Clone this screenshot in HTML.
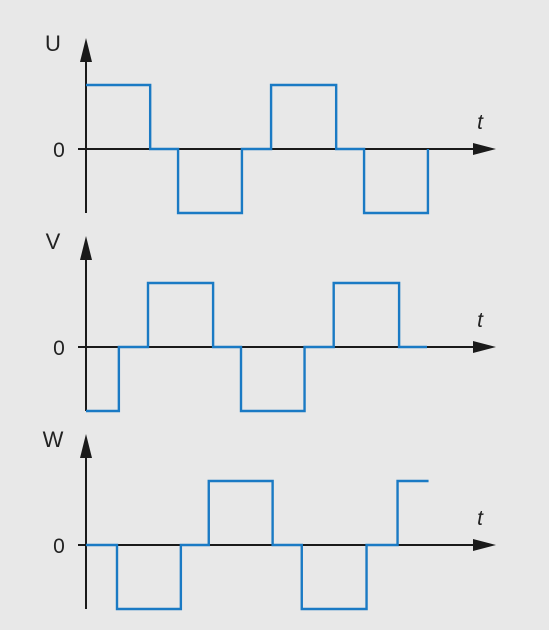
<!DOCTYPE html>
<html><head><meta charset="utf-8"><style>
html,body{margin:0;padding:0;background:#e8e8e8;}
svg{display:block;font-family:"Liberation Sans",sans-serif;}
</style></head><body>
<svg id="c" width="549" height="630" viewBox="0 0 549 630"></svg>
<script>
const phases = ["U","V","W"];
// segment boundaries (time units, ~1/12 period) and levels (+1,0,-1)
const times = [0,2.07,2.97,5.03,5.97,8.07,8.97,11.03,11.03];
const levelsU = [1,0,-1,0,1,0,-1,0];
const timesV = [0,1.06,2.0,4.1,5.0,7.05,7.99,10.1,11.0];
const levelsV = [-1,0,1,0,-1,0,1,0];
const timesW = [0,1.0,3.06,3.96,6.02,6.96,9.05,10.05,11.05];
const levelsW = [0,-1,0,1,0,-1,0,1];
const seriesTimes = [times, timesV, timesW];
const seriesLevels = [levelsU, levelsV, levelsW];
const zeroY = [149, 347, 545];
const amp = 64;
const x0 = 86, unit = 31;
const xs = t => x0 + t*unit;
const svg = document.getElementById('c');
const NS = "http://www.w3.org/2000/svg";
function mk(tag, attrs){const e=document.createElementNS(NS,tag);for(const k in attrs)e.setAttribute(k,attrs[k]);svg.appendChild(e);return e;}
phases.forEach((p,i)=>{
  const zy = zeroY[i];
  const yv = v => zy - v*amp;
  const ax = mk('line',{x1:x0,y1:zy+64,x2:x0,y2:zy-88,stroke:'#1a1a1a','stroke-width':2});
  
  
  const ah = mk('polygon',{points:`${x0-6},${zy-87} ${x0+6},${zy-87} ${x0},${zy-111}`,fill:'#1a1a1a'});
  
  
  const hx = mk('line',{x1:78,y1:zy,x2:475,y2:zy,stroke:'#1a1a1a','stroke-width':2});
  
  
  const xa = mk('polygon',{points:`473,${zy-6} 473,${zy+6} 496,${zy}`,fill:'#1a1a1a'});
  
  
  const lab = mk('text',{x:53,y:zy-98,'font-size':22,fill:'#222','text-anchor':'middle'});
  lab.textContent = p;
  
  
  const z = mk('text',{x:59,y:zy+8,'font-size':21,fill:'#222','text-anchor':'middle'});
  z.textContent = '0';
  
  
  const t = mk('text',{x:480,y:zy-20,'font-size':21,fill:'#222','font-style':'italic','text-anchor':'middle'});
  t.textContent = 't';
  
  
  const tt = seriesTimes[i], lv = seriesLevels[i];
  let d = '';
  lv.forEach((v,k)=>{
    const xa1 = xs(tt[k]), xb = xs(tt[k+1]), y = yv(v);
    d += (k===0?`M${xa1},${y}`:`L${xa1},${y}`) + `L${xb},${y}`;
  });
  const w = mk('path',{d:d,fill:'none',stroke:'#1a7ac4','stroke-width':2.4});
  
  
});
</script>
</body></html>
